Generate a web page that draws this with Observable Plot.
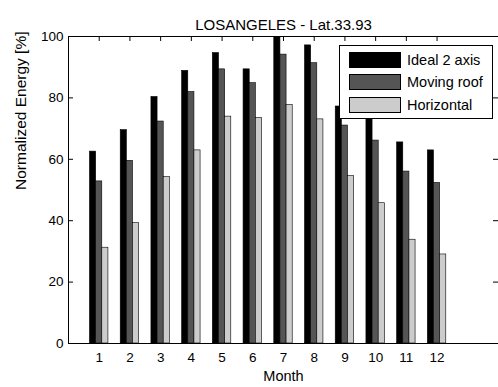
<!DOCTYPE html>
<html>
<head>
<meta charset="utf-8">
<script src="https://cdn.jsdelivr.net/npm/d3@7"></script>
<script src="https://cdn.jsdelivr.net/npm/@observablehq/plot@0.6"></script>
<style>
  html, body { margin: 0; padding: 0; background: #fff; }
  #wrap { position: relative; width: 498px; height: 387px; font-family: "Liberation Sans", Arial, sans-serif; }
  #legend { position: absolute; left: 339px; top: 45px; width: 154px; height: 74px; background: #fff; border: 1px solid #000; box-sizing: border-box; }
  .row { position: absolute; left: 9px; height: 16px; display: flex; align-items: center; }
  .sw { width: 52px; height: 16px; border: 1px solid #000; box-sizing: border-box; margin-right: 6px; }
  .lab { font-size: 14.5px; color: #000; white-space: nowrap; }
</style>
</head>
<body>
<div id="wrap"></div>
<script>
const months = [1, 2, 3, 4, 5, 6, 7, 8, 9, 10, 11, 12];
const ideal2axis = [62.5, 69.5, 80.3, 88.8, 94.6, 89.3, 99.8, 97.1, 77.2, 75.5, 65.5, 62.9];
const movingRoof = [52.8, 59.5, 72.3, 81.9, 89.3, 84.8, 94.1, 91.3, 71.0, 66.1, 56.0, 52.3];
const horizontal = [31.2, 39.2, 54.2, 62.9, 73.9, 73.5, 77.7, 73.0, 54.5, 45.7, 33.8, 29.0];
const seriesNames = ["Ideal 2 axis", "Moving roof", "Horizontal"];
const seriesColors = ["#000000", "#555555", "#cccccc"];
const yTicks = [0, 20, 40, 60, 80, 100];
const titleText = "LOSANGELES - Lat.33.93";
const xLabel = "Month";
const yLabel = "Normalized Energy [%]";

const seriesValues = [ideal2axis, movingRoof, horizontal];
const rows = [];
seriesValues.forEach((vals, i) => {
  vals.forEach((v, j) => rows.push({month: months[j], series: seriesNames[i], idx: i, value: v}));
});

const W = 498, H = 387, mt = 36, mb = 44, ml = 68, mr = 0;
const frameW = W - ml - mr, frameH = H - mt - mb;
const barW = 0.2;
const font = "Liberation Sans, Arial, sans-serif";

const chart = Plot.plot({
  width: W,
  height: H,
  marginTop: mt,
  marginBottom: mb,
  marginLeft: ml,
  marginRight: mr,
  style: {fontFamily: font, fontSize: "13px", color: "#000", background: "#fff"},
  x: {type: "linear", domain: [0, 14]},
  y: {domain: [0, 100]},
  color: {domain: seriesNames, range: seriesColors},
  marks: [
    Plot.rectY(rows, {
      x1: d => d.month + (d.idx - 1.5) * barW,
      x2: d => d.month + (d.idx - 0.5) * barW,
      y1: 0,
      y2: "value",
      fill: "series",
      stroke: "#000",
      strokeWidth: 0.6
    }),
    Plot.tickX(months, {x: d => d, insetBottom: frameH - 5, stroke: "#000"}),
    Plot.tickY(yTicks, {y: d => d, insetRight: frameW - 5, stroke: "#000"}),
    Plot.tickY(yTicks, {y: d => d, insetLeft: frameW - 5, stroke: "#000"}),
    Plot.frame({anchor: "left", stroke: "#000"}),
    Plot.frame({anchor: "top", stroke: "#000"}),
    Plot.frame({anchor: "bottom", stroke: "#000"}),
    Plot.axisX(months, {tickSize: 0, tickPadding: 9, label: null, fontSize: 13.5}),
    Plot.axisY(yTicks, {tickSize: 0, tickPadding: 5, label: null, fontSize: 13.5}),
    Plot.text([titleText], {frameAnchor: "top", dy: -17, fontSize: 15}),
    Plot.text([xLabel], {frameAnchor: "bottom", dy: 37, fontSize: 14.5}),
    Plot.text([yLabel], {frameAnchor: "left", dx: -47, rotate: -90, fontSize: 15.5})
  ]
});

const wrap = document.getElementById("wrap");
wrap.appendChild(chart);

const legend = document.createElement("div");
legend.id = "legend";
seriesNames.forEach((name, i) => {
  const row = document.createElement("div");
  row.className = "row";
  row.style.top = (6 + i * 22.3) + "px";
  const sw = document.createElement("div");
  sw.className = "sw";
  sw.style.background = seriesColors[i];
  const lab = document.createElement("span");
  lab.className = "lab";
  lab.textContent = name;
  row.appendChild(sw);
  row.appendChild(lab);
  legend.appendChild(row);
});
wrap.appendChild(legend);
</script>
</body>
</html>
